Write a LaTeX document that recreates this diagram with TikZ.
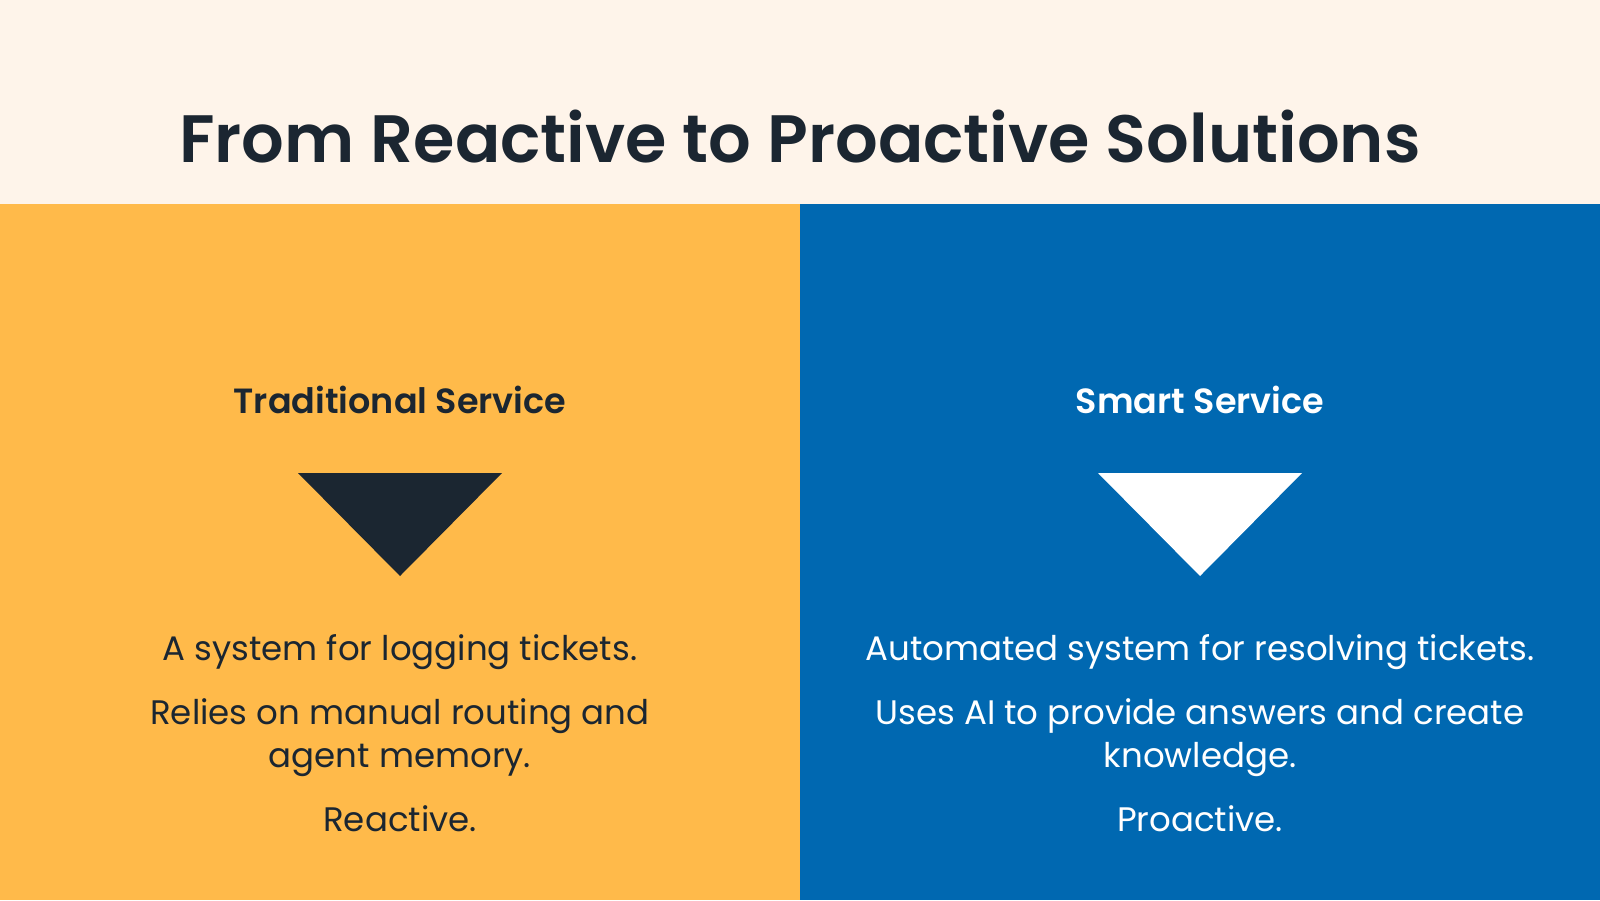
\documentclass[tikz,border=0pt]{standalone}
\usepackage{fontspec}
\setmainfont{Poppins}[BoldFont={Poppins SemiBold}]
\definecolor{cream}{HTML}{FEF4EA}
\definecolor{sunny}{HTML}{FFBA4A}
\definecolor{ocean}{HTML}{0068B1}
\definecolor{ink}{HTML}{1B2631}
\begin{document}
\begin{tikzpicture}[x=1pt,y=-1pt,
  title/.style={font=\fontsize{67}{80}\selectfont\bfseries, text=ink, anchor=base, inner sep=0},
  heading/.style={font=\fontsize{35}{42}\selectfont\bfseries, anchor=base, inner sep=0},
  body/.style={font=\fontsize{34}{43}\selectfont, anchor=base, inner sep=0, align=center}]
\useasboundingbox (0,0) rectangle (1600,900);
% background bands
\fill[cream] (0,0) rectangle (1600,204);
\fill[sunny] (0,204) rectangle (800,900);
\fill[ocean] (800,204) rectangle (1600,900);
% title
\node[title] (ttl) at (800,162) {From Reactive to Proactive Solutions};
% left column
\node[heading, text=ink] (lh) at (400,413) {Traditional Service};
\fill[ink] (298,473) -- (502,473) -- (400,576) -- cycle;
\node[body, text=ink] (l1) at (400,660) {A system for logging tickets.};
\node[body, text=ink] (l2) at (400,724) {Relies on manual routing and};
\node[body, text=ink] (l3) at (400,767) {agent memory.};
\node[body, text=ink] (l4) at (400,831) {Reactive.};
% right column
\node[heading, text=white] (rh) at (1200,413) {Smart Service};
\fill[white] (1098,473) -- (1302,473) -- (1200,576) -- cycle;
\node[body, text=white] (r1) at (1200,660) {Automated system for resolving tickets.};
\node[body, text=white] (r2) at (1200,724) {Uses AI to provide answers and create};
\node[body, text=white] (r3) at (1200,767) {knowledge.};
\node[body, text=white] (r4) at (1200,831) {Proactive.};
\end{tikzpicture}
\end{document}
